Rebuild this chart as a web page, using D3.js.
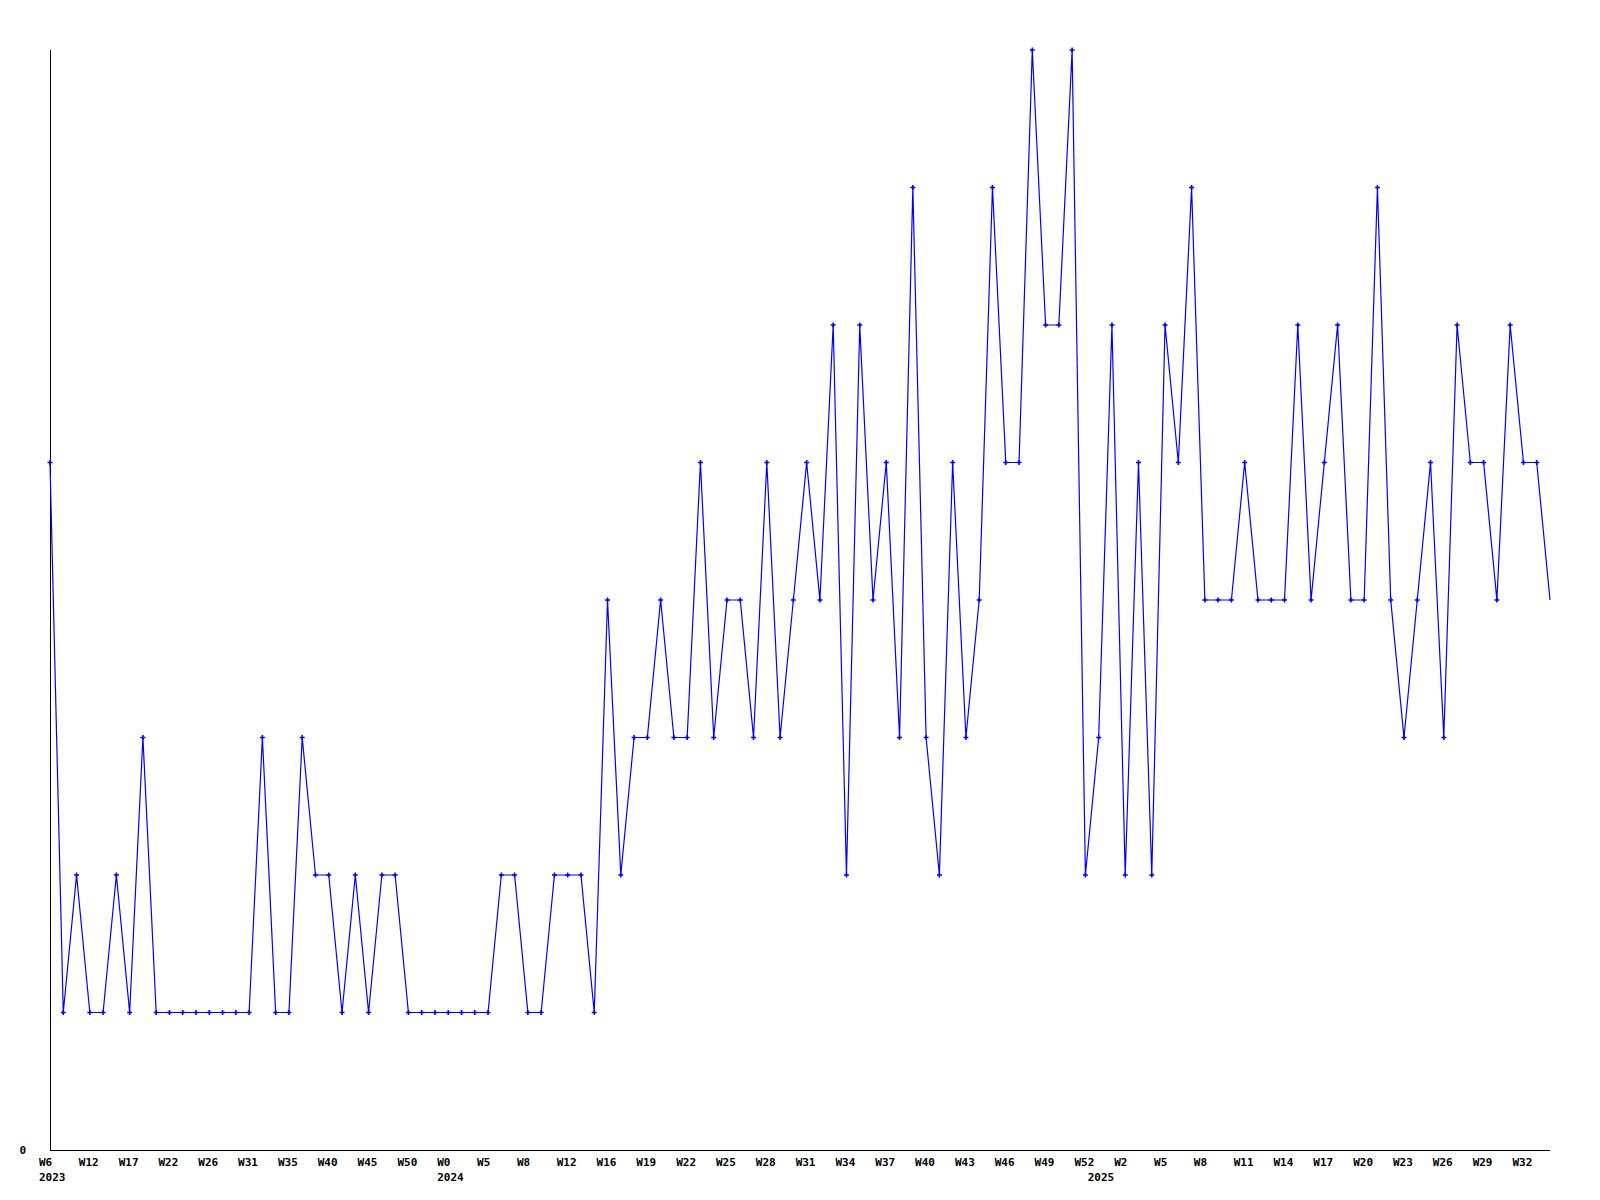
<!DOCTYPE html>
<html>
<head>
<meta charset="utf-8">
<script src="https://cdn.jsdelivr.net/npm/d3@7"></script>
<style>
  html, body { margin: 0; padding: 0; background: #fff; }
  svg { display: block; }
  text { font-family: "DejaVu Sans Mono", "Liberation Mono", monospace; font-size: 11px; font-weight: bold; fill: #000; }
</style>
</head>
<body>
<script>
// ---- data ----
const values = [
  5, 1, 2, 1, 1, 2, 1, 3, 1, 1,
  1, 1, 1, 1, 1, 1, 3, 1, 1, 3,
  2, 2, 1, 2, 1, 2, 2, 1, 1, 1,
  1, 1, 1, 1, 2, 2, 1, 1, 2, 2,
  2, 1, 4, 2, 3, 3, 4, 3, 3, 5,
  3, 4, 4, 3, 5, 3, 4, 5, 4, 6,
  2, 6, 4, 5, 3, 7, 3, 2, 5, 3,
  4, 7, 5, 5, 8, 6, 6, 8, 2, 3,
  6, 2, 5, 2, 6, 5, 7, 4, 4, 4,
  5, 4, 4, 4, 6, 4, 5, 6, 4, 4,
  7, 4, 3, 4, 5, 3, 6, 5, 5, 4,
  6, 5, 5, 4
];
const weekLabels = [
  "W6", "W12", "W17", "W22", "W26", "W31", "W35", "W40", "W45", "W50",
  "W0", "W5", "W8", "W12", "W16", "W19", "W22", "W25", "W28", "W31",
  "W34", "W37", "W40", "W43", "W46", "W49", "W52", "W2", "W5", "W8",
  "W11", "W14", "W17", "W20", "W23", "W26", "W29", "W32"
];
const labelStep = 3;           // one week label every 3 points
const yearLabels = ["2023", "2024", "2025"];
const yearIndex = [0, 30, 79]; // point index where each year begins
const yTickValues = [0];
const yMax = 8;

// ---- layout ----
const W = 1600, H = 1200;
const mLeft = 50, mRight = 1550, mTop = 50, mBottom = 1150;

const svg = d3.select("body").append("svg").attr("width", W).attr("height", H);

const x = d3.scaleLinear().domain([0, values.length - 1]).range([mLeft, mRight]);
const y = d3.scaleLinear().domain([0, yMax]).range([mBottom, mTop]);

// axes lines
svg.append("line").attr("x1", mLeft + 0.5).attr("x2", mLeft + 0.5).attr("y1", mTop).attr("y2", mBottom + 0.5)
  .attr("stroke", "#000").attr("stroke-width", 1).attr("shape-rendering", "crispEdges");
svg.append("line").attr("x1", mLeft).attr("x2", mRight).attr("y1", mBottom + 0.5).attr("y2", mBottom + 0.5)
  .attr("stroke", "#000").attr("stroke-width", 1).attr("shape-rendering", "crispEdges");

// y tick label(s)
svg.selectAll("text.ylab").data(yTickValues).enter().append("text")
  .attr("class", "ylab")
  .attr("x", 26).attr("y", d => y(d)).attr("dy", "0.35em")
  .attr("text-anchor", "end").text(d => d);

// week labels
svg.selectAll("text.wlab").data(weekLabels).enter().append("text")
  .attr("class", "wlab")
  .attr("x", (d, i) => x(i * labelStep) - 11)
  .attr("y", 1162).attr("dy", "0.35em")
  .text(d => d);

// year labels
svg.selectAll("text.yrlab").data(yearLabels).enter().append("text")
  .attr("class", "yrlab")
  .attr("x", (d, i) => x(yearIndex[i]) - 11)
  .attr("y", 1177).attr("dy", "0.35em")
  .text(d => d);

// line
const line = d3.line().x((d, i) => x(i)).y(d => y(d));
svg.append("path").datum(values)
  .attr("d", line)
  .attr("fill", "none").attr("stroke", "#0000ff").attr("stroke-width", 1.2);

// markers (plus signs), last point drawn without marker
svg.selectAll("path.mk").data(values.slice(0, values.length - 1)).enter().append("path")
  .attr("class", "mk")
  .attr("transform", (d, i) => `translate(${x(i)},${y(d)})`)
  .attr("d", "M-2.5,0H2.5M0,-2.5V2.5")
  .attr("stroke", "#0000ff").attr("stroke-width", 1.6).attr("fill", "none");
</script>
</body>
</html>
